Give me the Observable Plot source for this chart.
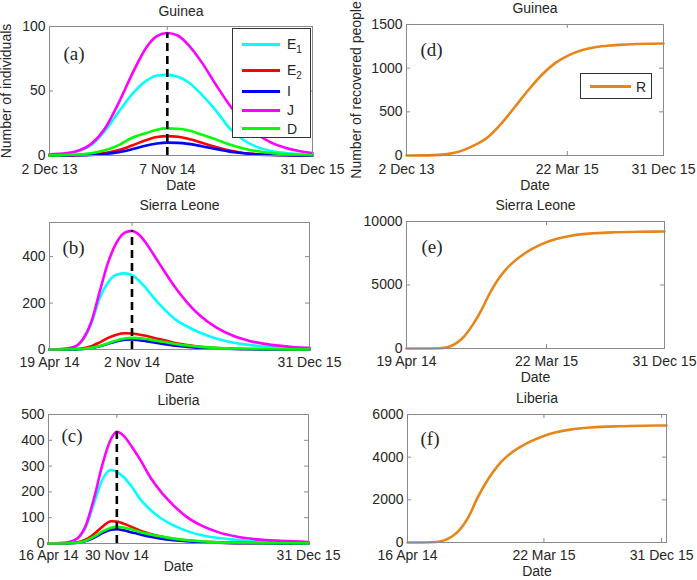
<!DOCTYPE html>
<html><head><meta charset="utf-8">
<script src="https://cdn.jsdelivr.net/npm/d3@7"></script>
<script src="https://cdn.jsdelivr.net/npm/@observablehq/plot@0.6"></script>
<style>
body{margin:0;background:#fff;}
#chart{position:relative;width:697px;height:580px;overflow:hidden;font-family:"Liberation Sans",Arial,sans-serif;color:#262626;background:#fff;}
#chart svg{position:absolute;left:0;top:0;}
.legend{position:absolute;background:#fff;border:1px solid #333;box-sizing:border-box;}
.legend .sw{position:absolute;height:3px;}
.legend .lb{position:absolute;font-size:14px;line-height:16px;white-space:nowrap;}
.legend sub{font-size:10px;line-height:0;vertical-align:-4px;}
</style></head><body><div id="chart"></div><script>
// ---------- series names / colours ----------
const seriesNames = ["E1", "E2", "I", "J", "D"];
const seriesColors = ["#00ffff", "#ff0000", "#0000ff", "#ff00ff", "#00ff00"];
const recoveredName = "R";
const recoveredColor = "#e6861a";

// ---------- Guinea ----------
const guineaDays = [0,40,80,120,160,200,240,280,310,340,370,400,440,480,520,560,600,640,680,720,759];
const guineaE1 = [0.8,1.4,3.3,8,19,34,48,58,62,62.5,61,57,47,35,21,12,6.5,3.5,2,1.2,0.7];
const guineaE2 = [0,0.1,0.3,0.8,2,4.2,8,12,14.3,15,14.5,13,9.8,6.5,3.8,2,1,0.5,0.2,0.1,0.05];
const guineaI  = [0,0.05,0.2,0.5,1.2,2.6,5,7.8,9.3,10,9.8,9,7.2,5,3,1.7,0.9,0.45,0.2,0.1,0.05];
const guineaJ  = [1,1.5,3.5,9,21,41,64,84,92.5,95,93,86,72,55,39,26,16.5,10,6,3.5,2];
const guineaD  = [0.1,0.3,0.8,1.8,4,8,14,17.5,20,21,20.7,19.5,16,12.5,8.5,5.5,3.3,2,1.1,0.6,0.3];
const guineaRDays = [0,40,80,120,160,200,240,280,320,360,400,440,480,520,560,600,640,680,720,759];
const guineaR = [0,1,4,16,50,115,210,365,555,750,925,1060,1150,1208,1242,1260,1270,1276,1280,1282];
const guineaTickDays = [0,340,759];
const guineaTickLabels = ["2 Dec 13","7 Nov 14","31 Dec 15"];
const guineaRTickDays = [0,475,759];
const guineaRTickLabels = ["2 Dec 13","22 Mar 15","31 Dec 15"];
const guineaYTicks = [0,50,100];
const guineaRYTicks = [0,500,1000,1500];

// ---------- Sierra Leone ----------
const sierraDays = [0,30,60,80,100,120,140,160,180,197,210,230,250,275,300,330,360,400,440,480,530,580,621];
const sierraE1 = [0.5,2,11,42,112,222,290,322,328,321,303,265,220,172,130,98,72,46,29,19,11,7,5];
const sierraE2 = [0,0.2,1.5,5,14,31,50,64,70,69,66,59,50,40,28,19,12,6.5,3.5,2,1,0.5,0.3];
const sierraI  = [0,0.1,0.7,2.2,6.5,14,25,35,42,43,41,36,30,23,16.5,11,7,4,2,1,0.5,0.2,0.1];
const sierraJ  = [0.5,2,12,45,120,250,375,460,503,511,500,460,405,335,268,200,145,93,58,36,20,11,7];
const sierraD  = [0,0.1,0.8,2.5,7,15,27,39,47,50,49,45,39,32,24,17,11.5,7,4,2.3,1.2,0.6,0.3];
const sierraRDays = [0,40,80,100,120,140,160,180,200,220,240,260,280,300,330,360,400,450,500,560,621];
const sierraR = [0,0,15,110,420,1000,1900,3010,4320,5420,6250,6880,7380,7800,8280,8620,8900,9070,9150,9195,9210];
const sierraTickDays = [0,197,621];
const sierraTickLabels = ["19 Apr 14","2 Nov 14","31 Dec 15"];
const sierraRTickDays = [0,337,621];
const sierraRTickLabels = ["19 Apr 14","22 Mar 15","31 Dec 15"];
const sierraYTicks = [0,200,400];
const sierraRYTicks = [0,5000,10000];

// ---------- Liberia ----------
const liberiaDays = [0,30,50,70,90,110,130,150,164,180,200,220,245,270,300,330,365,405,450,500,560,624];
const liberiaE1 = [0.5,1.5,5.5,19,66,160,250,285,278,258,220,172,130,98,70,50,33,22,14,9,6,4];
const liberiaE2 = [0,0.3,1.5,5,16,38,66,86,85,77,64,50,37,27,18,12,7.5,4.5,2.5,1.3,0.6,0.3];
const liberiaI  = [0,0.2,0.9,3,9.5,23,41,53,55,51,43,35,26,19,13,8.5,5,3,1.5,0.8,0.4,0.2];
const liberiaJ  = [0.5,1.5,6,21,72,180,310,405,433,418,375,325,255,200,148,105,71,45,27,16,10,6];
const liberiaD  = [0,0.2,1,3.5,11,27,47,61,65,62,54,45,35,27,19,13,8.5,5,3,1.6,0.8,0.4];
const liberiaRDays = [0,40,70,90,110,130,150,170,190,210,230,250,270,300,330,360,400,450,520,580,636];
const liberiaR = [0,0,20,100,290,640,1200,2020,2720,3300,3780,4130,4400,4720,4960,5140,5290,5390,5450,5475,5485];
const liberiaTickDays = [0,164,624];
const liberiaTickLabels = ["16 Apr 14","30 Nov 14","31 Dec 15"];
const liberiaRTickDays = [0,335,624];
const liberiaRTickLabels = ["16 Apr 14","22 Mar 15","31 Dec 15"];
const liberiaYTicks = [0,100,200,300,400,500];
const liberiaRYTicks = [0,2000,4000,6000];

// ---------- helpers ----------
const W = 697, H = 580;
const frameColor = "#8a8a8a";
const textColor = "#262626";
const chart = document.getElementById("chart");

function tidy(days, arrays, names) {
  return arrays.flatMap((arr, k) => arr.map((v, i) => ({day: days[i], value: v, series: names[k]})));
}

function panel(o) {
  const [L, T, R, B] = o.frame;
  const w = R - L, h = B - T;
  const lines = o.series.map(s => Plot.line(s.data, {x: "day", y: "value", stroke: s.color, strokeWidth: 2.6, curve: "monotone-x"}));
  const marks = [
    Plot.axisX(o.xTicks, {tickSize: 0, tickPadding: o.xPad, label: null, tickFormat: d => o.xLabels[o.xTicks.indexOf(d)], fontSize: 14, fill: textColor}),
    Plot.axisY(o.yTicks, {tickSize: 0, tickPadding: 4, label: null, tickFormat: d => String(d), fontSize: 14, fill: textColor}),
    Plot.tickX(o.xTicks, {x: d => d, insetTop: h - 4, stroke: frameColor}),
    Plot.tickX(o.xTicks, {x: d => d, insetBottom: h - 4, stroke: frameColor}),
    Plot.tickY(o.yTicks, {y: d => d, insetRight: w - 4, stroke: frameColor}),
    Plot.tickY(o.yTicks, {y: d => d, insetLeft: w - 4, stroke: frameColor}),
    ...lines
  ];
  if (o.peak) {
    marks.push(Plot.ruleX([o.peak], {x: "day", y1: 0, y2: "value", stroke: "black", strokeWidth: 2.6, strokeDasharray: "8,5"}));
  }
  marks.push(
    Plot.frame({stroke: frameColor}),
    Plot.text([o.title], {frameAnchor: "top", dy: -o.titleDy, lineAnchor: "middle", textAnchor: "middle", fontSize: 14, fill: textColor}),
    Plot.text(["Date"], {frameAnchor: "bottom", dy: o.dateDy, lineAnchor: "middle", textAnchor: "middle", fontSize: 14, fill: textColor}),
    Plot.text([o.tag], {frameAnchor: "top-left", dx: o.tagDx, dy: o.tagDy, textAnchor: "start", lineAnchor: "middle", fontSize: 19, fontFamily: "Liberation Serif, Times New Roman, serif", fill: textColor})
  );
  if (o.ylabel) {
    marks.push(Plot.text([o.ylabel], {frameAnchor: "left", dx: -o.ylabelDx, rotate: -90, textAnchor: "middle", lineAnchor: "middle", fontSize: 14, fill: textColor}));
  }
  const svg = Plot.plot({
    width: W, height: H,
    marginLeft: L, marginTop: T, marginRight: W - R, marginBottom: H - B,
    x: {domain: o.xDomain},
    y: {domain: o.yDomain},
    style: {background: "transparent", fontFamily: "Liberation Sans, Arial, sans-serif", fontSize: "14px", color: textColor, overflow: "visible"},
    marks
  });
  chart.appendChild(svg);
}

function epiSeries(days, arrays) {
  return arrays.map((arr, k) => ({color: seriesColors[k], data: tidy(days, [arr], [seriesNames[k]])}));
}
function peakOf(days, arr) {
  const i = d3.maxIndex(arr);
  return {day: days[i], value: arr[i]};
}

// (a) Guinea
panel({frame: [49, 26, 312, 155], xDomain: [0, 759], yDomain: [0, 100],
  xTicks: guineaTickDays, xLabels: guineaTickLabels, yTicks: guineaYTicks, xPad: 9,
  series: epiSeries(guineaDays, [guineaE1, guineaE2, guineaI, guineaJ, guineaD]),
  peak: peakOf(guineaDays, guineaJ),
  title: "Guinea", titleDy: 14.5, dateDy: 30, tag: "(a)", tagDx: 14, tagDy: 27,
  ylabel: "Number of individuals", ylabelDx: 42.5});

// (d) Guinea R
panel({frame: [406, 24, 663, 155], xDomain: [0, 759], yDomain: [0, 1500],
  xTicks: guineaRTickDays, xLabels: guineaRTickLabels, yTicks: guineaRYTicks, xPad: 9,
  series: [{color: recoveredColor, data: tidy(guineaRDays, [guineaR], [recoveredName])}],
  title: "Guinea", titleDy: 16, dateDy: 30, tag: "(d)", tagDx: 14, tagDy: 25,
  ylabel: "Number of recovered people", ylabelDx: 50});

// (b) Sierra Leone
panel({frame: [49, 222, 309, 349], xDomain: [0, 621], yDomain: [0, 547],
  xTicks: sierraTickDays, xLabels: sierraTickLabels, yTicks: sierraYTicks, xPad: 7.5,
  series: epiSeries(sierraDays, [sierraE1, sierraE2, sierraI, sierraJ, sierraD]),
  peak: peakOf(sierraDays, sierraJ),
  title: "Sierra Leone", titleDy: 16.5, dateDy: 29, tag: "(b)", tagDx: 13, tagDy: 25});

// (e) Sierra Leone R
panel({frame: [406, 221, 664, 348], xDomain: [0, 621], yDomain: [0, 10000],
  xTicks: sierraRTickDays, xLabels: sierraRTickLabels, yTicks: sierraRYTicks, xPad: 7.5,
  series: [{color: recoveredColor, data: tidy(sierraRDays, [sierraR], [recoveredName])}],
  title: "Sierra Leone", titleDy: 16, dateDy: 29.5, tag: "(e)", tagDx: 15, tagDy: 25});

// (c) Liberia
panel({frame: [48, 414, 308, 543], xDomain: [0, 624], yDomain: [0, 500],
  xTicks: liberiaTickDays, xLabels: liberiaTickLabels, yTicks: liberiaYTicks, xPad: 7,
  series: epiSeries(liberiaDays, [liberiaE1, liberiaE2, liberiaI, liberiaJ, liberiaD]),
  peak: peakOf(liberiaDays, liberiaJ),
  title: "Liberia", titleDy: 14, dateDy: 23, tag: "(c)", tagDx: 13, tagDy: 21});

// (f) Liberia R
panel({frame: [407, 414, 666, 542], xDomain: [0, 636], yDomain: [0, 6000],
  xTicks: liberiaRTickDays, xLabels: liberiaRTickLabels, yTicks: liberiaRYTicks, xPad: 7.5,
  series: [{color: recoveredColor, data: tidy(liberiaRDays, [liberiaR], [recoveredName])}],
  title: "Liberia", titleDy: 15.5, dateDy: 29.5, tag: "(f)", tagDx: 13, tagDy: 24});

// ---------- legends ----------
function legend(box, entries) {
  const div = document.createElement("div");
  div.className = "legend";
  Object.assign(div.style, {left: box.left + "px", top: box.top + "px", width: box.width + "px", height: box.height + "px"});
  entries.forEach(e => {
    const sw = document.createElement("div");
    sw.className = "sw";
    Object.assign(sw.style, {left: box.swX + "px", width: box.swW + "px", top: (e.y - 1.5) + "px", background: e.color});
    const lb = document.createElement("div");
    lb.className = "lb";
    Object.assign(lb.style, {left: box.lbX + "px", top: (e.y - 8) + "px"});
    lb.innerHTML = e.name.replace(/(\d)$/, "<sub>$1</sub>");
    div.appendChild(sw); div.appendChild(lb);
  });
  chart.appendChild(div);
}
const legendRowY = [15, 41, 62, 81, 99.5];
legend({left: 232, top: 28, width: 79, height: 110, swX: 9, swW: 38, lbX: 54},
  seriesNames.map((n, i) => ({name: n, color: seriesColors[i], y: legendRowY[i]})));
legend({left: 580, top: 73, width: 72, height: 26, swX: 9, swW: 41, lbX: 55},
  [{name: recoveredName, color: recoveredColor, y: 12.5}]);
</script></body></html>
